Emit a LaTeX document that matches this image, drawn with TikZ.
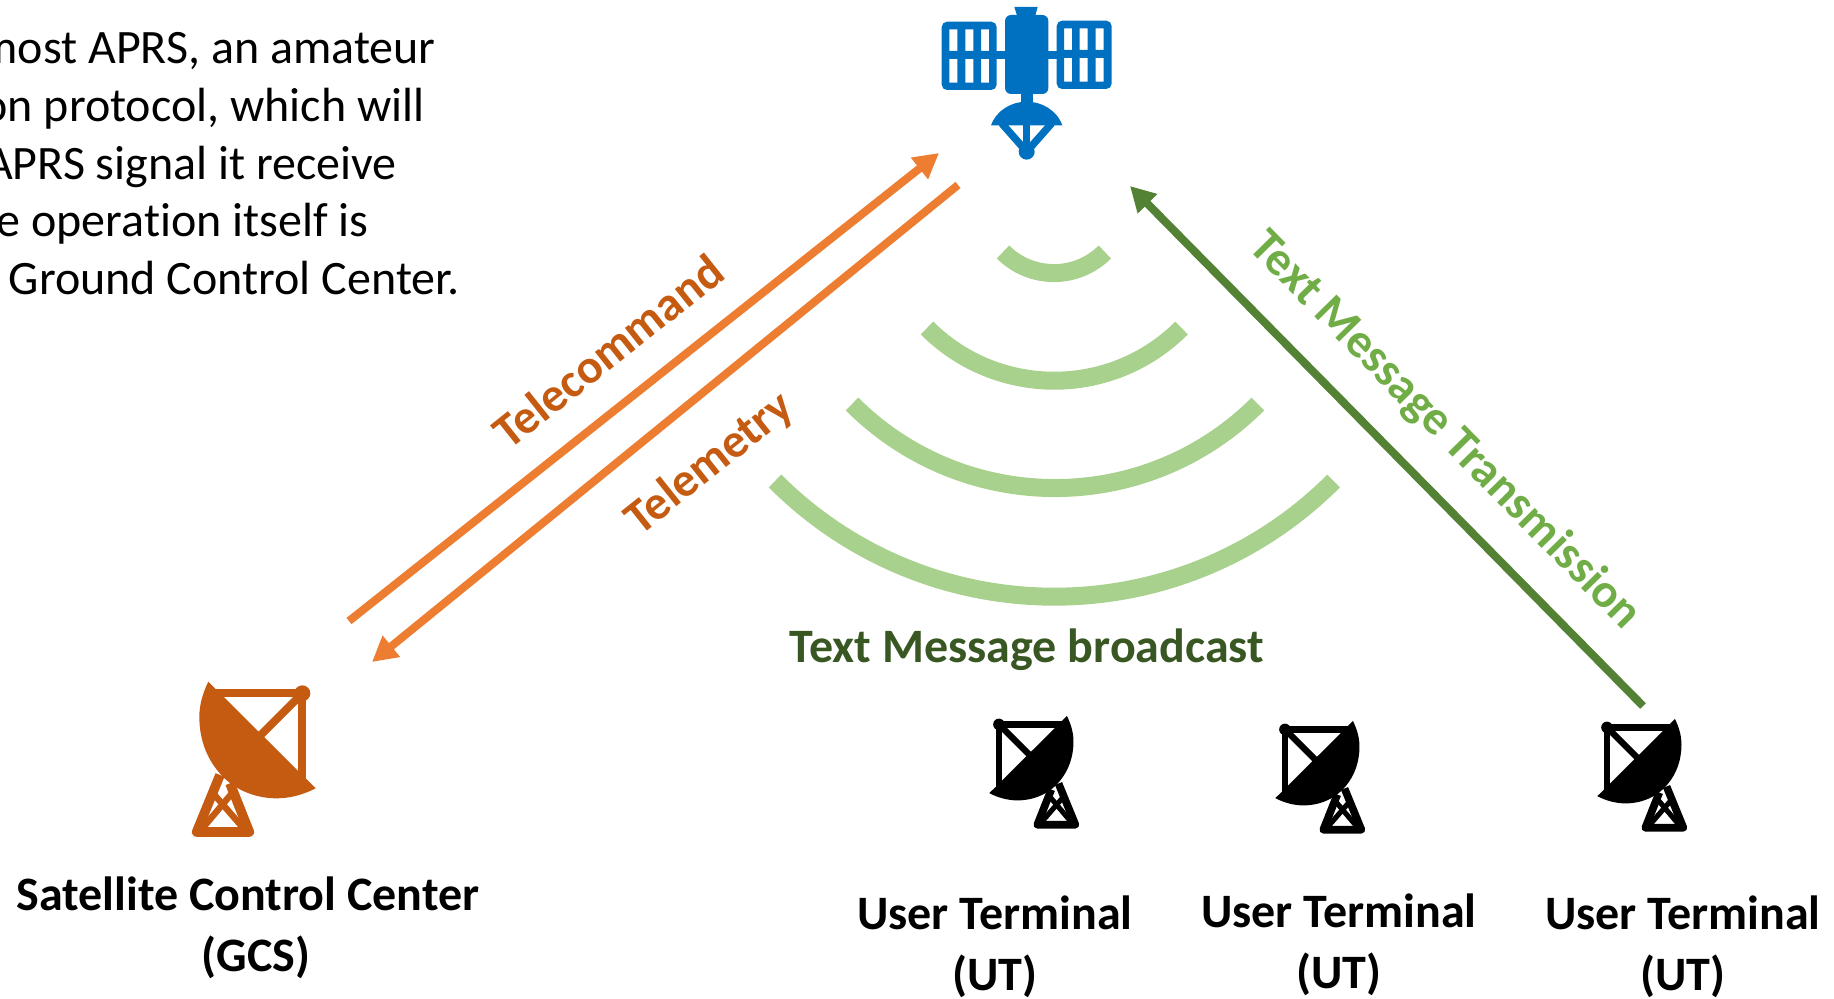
\documentclass[tikz,border=0pt]{standalone}
\usepackage{fontspec}
\setmainfont[Ligatures=NoCommon]{Carlito}
\usetikzlibrary{arrows.meta}
\definecolor{orangeline}{HTML}{ED7D31}
\definecolor{orangedark}{HTML}{C55A11}
\definecolor{greenline}{HTML}{548235}
\definecolor{greentext}{HTML}{70AD47}
\definecolor{greenarc}{HTML}{A9D18E}
\definecolor{greendark}{HTML}{385723}
\definecolor{satblue}{HTML}{0070C0}
\tikzset{
  body/.style={font=\fontsize{24}{29}\selectfont,anchor=base east,inner sep=0pt},
  caption/.style={font=\fontsize{24}{30.5}\selectfont\bfseries,align=center,inner sep=0pt},
  linklabel/.style={font=\fontsize{24}{27}\selectfont\bfseries,inner sep=0pt},
  link/.style={line width=4pt,-{Triangle[length=12.5pt,width=13pt]}},
  wave/.style={greenarc,line cap=butt,line width=9pt},
}
\newcommand{\dishicon}[6]{%
  \begin{scope}[shift={(#1,#2)},xscale=#3,yscale=#4,#6,line join=round,line cap=butt]
    \fill (115,65) .. controls (98,100) and (88,135) .. (88,170)
      .. controls (88,235) and (108,290) .. (145,335)
      .. controls (185,385) and (250,415) .. (320,415)
      .. controls (362,415) and (402,403) .. (437,385) -- cycle;
    \draw[line width=#5*4pt] (130,100) -- (397,100) -- (397,365);
    \draw[line width=#5*4pt] (397,100) -- (265,232);
    \fill (397,100) circle (24);
    \draw[line width=#5*4.8pt] (150,345) -- (80,516) -- (238,516) -- (180,370);
    \draw[line width=#5*3.2pt] (88,516) -- (190,395);
    \draw[line width=#5*3.2pt] (230,516) -- (125,395);
  \end{scope}}
\newcommand{\saticon}[2]{%
  \begin{scope}[shift={(#1,#2)},xscale=1/3,yscale=1/3,fill=satblue]
    \fill[even odd rule,rounded corners=2.7pt]
      (125,65) rectangle (290,270)
      [sharp corners]
      (148,88) rectangle (172,153) (196,88) rectangle (220,153) (243,88) rectangle (267,153)
      (148,177) rectangle (172,248) (196,177) rectangle (220,248) (243,177) rectangle (267,248);
    \fill[even odd rule,rounded corners=2.7pt]
      (470,62) rectangle (635,267)
      [sharp corners]
      (492,85) rectangle (516,150) (539,85) rectangle (563,150) (587,85) rectangle (611,150)
      (492,174) rectangle (516,245) (539,174) rectangle (563,245) (587,174) rectangle (611,245);
    \fill[rounded corners=3pt] (315,45) rectangle (445,282);
    \fill (343,21) -- (413,21) -- (405,50) -- (352,50) -- cycle;
    \fill (288,152) rectangle (472,176);
    \fill (362,275) rectangle (398,312);
    \fill (273,376) .. controls (290,330) and (335,305) .. (380,305)
      .. controls (425,305) and (470,330) .. (487,376) -- cycle;
    \draw[satblue,line width=3.7pt] (305,370) -- (380,455) -- (455,370);
    \draw[satblue,line width=3.7pt] (380,370) -- (380,455);
    \fill (380,455) circle (24);
  \end{scope}}
\begin{document}
\begin{tikzpicture}[x=0.5pt,y=-0.5pt]
  \useasboundingbox (0,0) rectangle (1834,999);
  \clip (0,0) rectangle (1834,999);

  \node[body] (t1) at (436,64) {most APRS, an amateur};
  \node[body] (t2) at (425,122) {on protocol, which will};
  \node[body] (t3) at (397,180) {APRS signal it receive};
  \node[body] (t4) at (369,237) {e operation itself is};
  \node[body] (t5) at (460,295) {Ground Control Center.};

  \saticon{900}{0}
  \dishicon{170}{660}{1/3}{1/3}{1}{orangedark,fill=orangedark,draw=orangedark}
  \dishicon{1094.7}{700.3}{-0.2412}{0.2412}{0.8}{black}
  \dishicon{1380.7}{705.3}{-0.2412}{0.2412}{0.8}{black}
  \dishicon{1702.7}{703.3}{-0.2412}{0.2412}{0.8}{black}

  \coordinate (gcsup) at (349,621);
  \coordinate (satin) at (939,153);
  \coordinate (satout) at (958,185);
  \coordinate (gcsdown) at (372,662);
  \coordinate (utout) at (1643,706);
  \coordinate (satgreen) at (1130,186);
  \draw[link,orangeline] (gcsup) -- (satin);
  \draw[link,orangeline] (satout) -- (gcsdown);
  \draw[link,greenline] (utout) -- (satgreen);

  \draw[wave] (1003,252) arc[start angle=135,end angle=45,radius=72];
  \draw[wave] (927,328) arc[start angle=135,end angle=45,radius=180];
  \draw[wave] (852,404) arc[start angle=135,end angle=45,radius=287];
  \draw[wave] (775,481) arc[start angle=135,end angle=45,radius=395];

  \node[linklabel,orangedark,rotate=38.5] (telecmd) at (608,351) {Telecommand};
  \node[linklabel,orangedark,rotate=38.5] (telem) at (710,464) {Telemetry};
  \node[linklabel,greentext,rotate=-45.5] (txt) at (1445,431) {Text Message Transmission};
  \node[linklabel,greendark] (bcast) at (1027,650) {Text Message broadcast};

  \node[caption] (gcs) at (248,928) {Satellite Control Center\\\hspace*{8pt}(GCS)};
  \node[caption] (ut1) at (995,947) {User Terminal\\(UT)};
  \node[caption] (ut2) at (1339,945) {User Terminal\\(UT)};
  \node[caption] (ut3) at (1683,947) {User Terminal\\(UT)};
\end{tikzpicture}
\end{document}
